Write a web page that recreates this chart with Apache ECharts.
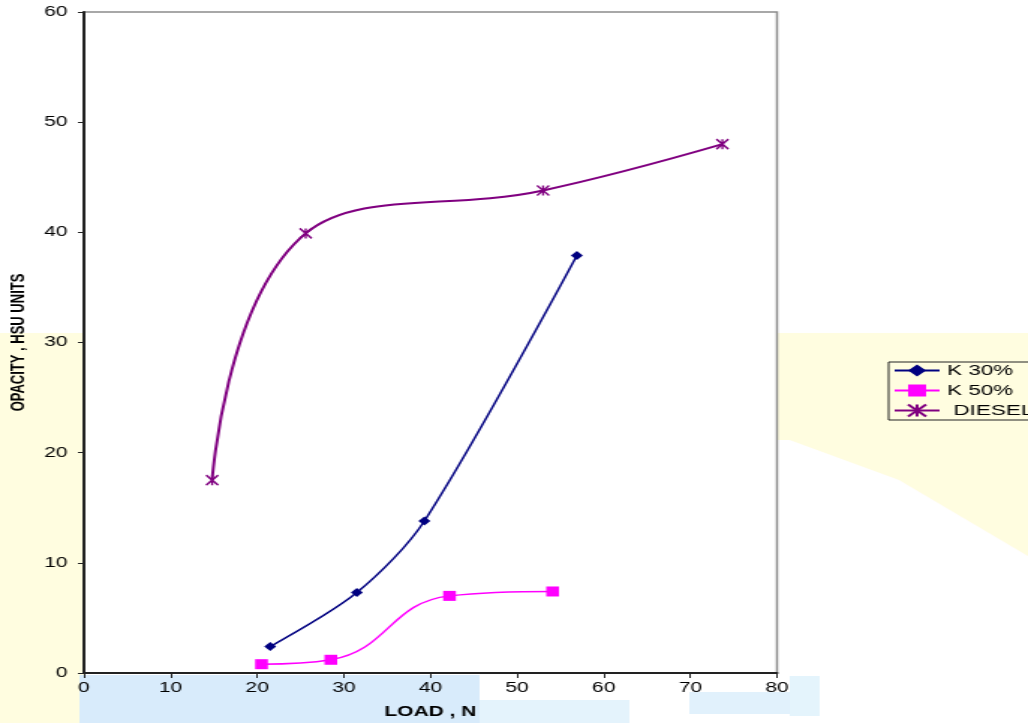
<!DOCTYPE html>
<html>
<head>
<meta charset="utf-8">
<title>Opacity vs Load</title>
<script src="https://cdn.jsdelivr.net/npm/echarts@6/dist/echarts.min.js"></script>
<style>
  html, body { margin: 0; padding: 0; background: #ffffff; overflow: hidden; }
  /* the chart is laid out narrow and widened horizontally to fill the page */
  #chart { width: 686px; height: 723px; transform: scaleX(1.4985); transform-origin: 0 0; }
</style>
</head>
<body>
<div id="chart"></div>
<script>
// Load (N) and smoke opacity (HSU) for each fuel
const k30Load = [21.5, 31.5, 39.3, 56.9];
const k30Opacity = [2.4, 7.3, 13.8, 37.9];

const k50Load = [20.5, 28.5, 42.2, 54.1];
const k50Opacity = [0.8, 1.2, 7.0, 7.4];

const dieselLoad = [14.8, 25.6, 53.0, 73.7];
const dieselOpacity = [17.5, 39.9, 43.8, 48.0];

const seriesNames = ['K 30%', 'K 50%', ' DIESEL'];
const xTitle = 'LOAD , N';
const yTitle = 'OPACITY , HSU UNITS';

const pair = (xs, ys) => xs.map((x, i) => [x, ys[i]]);

// asterisk marker: an X crossed by a vertical stroke
const asterisk = 'path://M0,0L10,10M10,0L0,10M5,0L5,10';

const chart = echarts.init(document.getElementById('chart'), null, { renderer: 'canvas' });

const labelFont = { fontFamily: 'Liberation Sans, Arial, sans-serif', fontSize: 14, color: '#000' };

chart.setOption({
  backgroundColor: '#ffffff',
  animation: false,
  graphic: [
    // soft tinted page backdrop
    { type: 'rect', z: -10, silent: true, shape: { x: 0, y: 333, width: 56, height: 390 },
      style: { fill: '#fffde0' } },
    { type: 'polygon', z: -10, silent: true,
      shape: { points: [[519, 333], [686, 333], [686, 556], [600, 480], [527, 440], [519, 440]] },
      style: { fill: '#fffde0' } },
    { type: 'rect', z: -10, silent: true, shape: { x: 53, y: 675, width: 267, height: 48 },
      style: { fill: '#d8ebfb' } },
    { type: 'rect', z: -10, silent: true, shape: { x: 320, y: 700, width: 100, height: 23 },
      style: { fill: '#e4f3fc' } },
    { type: 'rect', z: -10, silent: true, shape: { x: 460, y: 692, width: 67, height: 22 },
      style: { fill: '#e1f1fc' } },
    { type: 'rect', z: -10, silent: true, shape: { x: 527, y: 676, width: 20, height: 40 },
      style: { fill: '#e4f4fc' } }
  ],
  grid: {
    left: 56, right: 167.5, top: 12, bottom: 50,
    outerBoundsMode: 'none',
    show: true, backgroundColor: '#ffffff', borderColor: '#8c8c8c', borderWidth: 1.5
  },
  legend: {
    orient: 'vertical',
    left: 593, top: 362,
    padding: [1, 40, 2, 3],
    itemGap: 5,
    itemWidth: 30, itemHeight: 15,
    borderColor: '#222', borderWidth: 1,
    backgroundColor: 'transparent',
    textStyle: { fontFamily: 'Liberation Sans, Arial, sans-serif', fontSize: 15, color: '#000' },
    data: seriesNames
  },
  xAxis: {
    type: 'value', min: 0, max: 80, interval: 10,
    name: xTitle, nameLocation: 'middle', nameGap: 32,
    nameTextStyle: { fontFamily: 'Liberation Sans, Arial, sans-serif', fontSize: 14, fontWeight: 'bold', color: '#000' },
    axisLine: { show: true, lineStyle: { color: '#222', width: 2 } },
    axisTick: { show: true, length: 5, lineStyle: { color: '#222' } },
    axisLabel: Object.assign({ margin: 8 }, labelFont),
    splitLine: { show: false }
  },
  yAxis: {
    type: 'value', min: 0, max: 60, interval: 10,
    name: yTitle, nameLocation: 'middle', nameGap: 36,
    nameTextStyle: { fontFamily: 'Liberation Sans, Arial, sans-serif', fontSize: 13, fontWeight: 'bold', color: '#000' },
    axisLine: { show: true, lineStyle: { color: '#222', width: 2 } },
    axisTick: { show: true, length: 4, lineStyle: { color: '#222' } },
    axisLabel: Object.assign({ margin: 11 }, labelFont),
    splitLine: { show: false }
  },
  series: [
    {
      name: seriesNames[0], type: 'line', smooth: 0.3,
      data: pair(k30Load, k30Opacity),
      symbol: 'diamond', symbolSize: [8, 9],
      lineStyle: { color: '#000080', width: 1.5 },
      itemStyle: { color: '#000080' }
    },
    {
      name: seriesNames[1], type: 'line', smooth: 0.45,
      data: pair(k50Load, k50Opacity),
      symbol: 'rect', symbolSize: [8.5, 10],
      lineStyle: { color: '#ff00ff', width: 1.5 },
      itemStyle: { color: '#ff00ff' }
    },
    {
      name: seriesNames[2], type: 'line', smooth: 0.4,
      data: pair(dieselLoad, dieselOpacity),
      symbol: asterisk, symbolSize: [8, 10],
      lineStyle: { color: '#800080', width: 2 },
      itemStyle: { color: 'rgba(0,0,0,0)', borderColor: '#800080', borderWidth: 1.5 }
    }
  ]
});
</script>
</body>
</html>
